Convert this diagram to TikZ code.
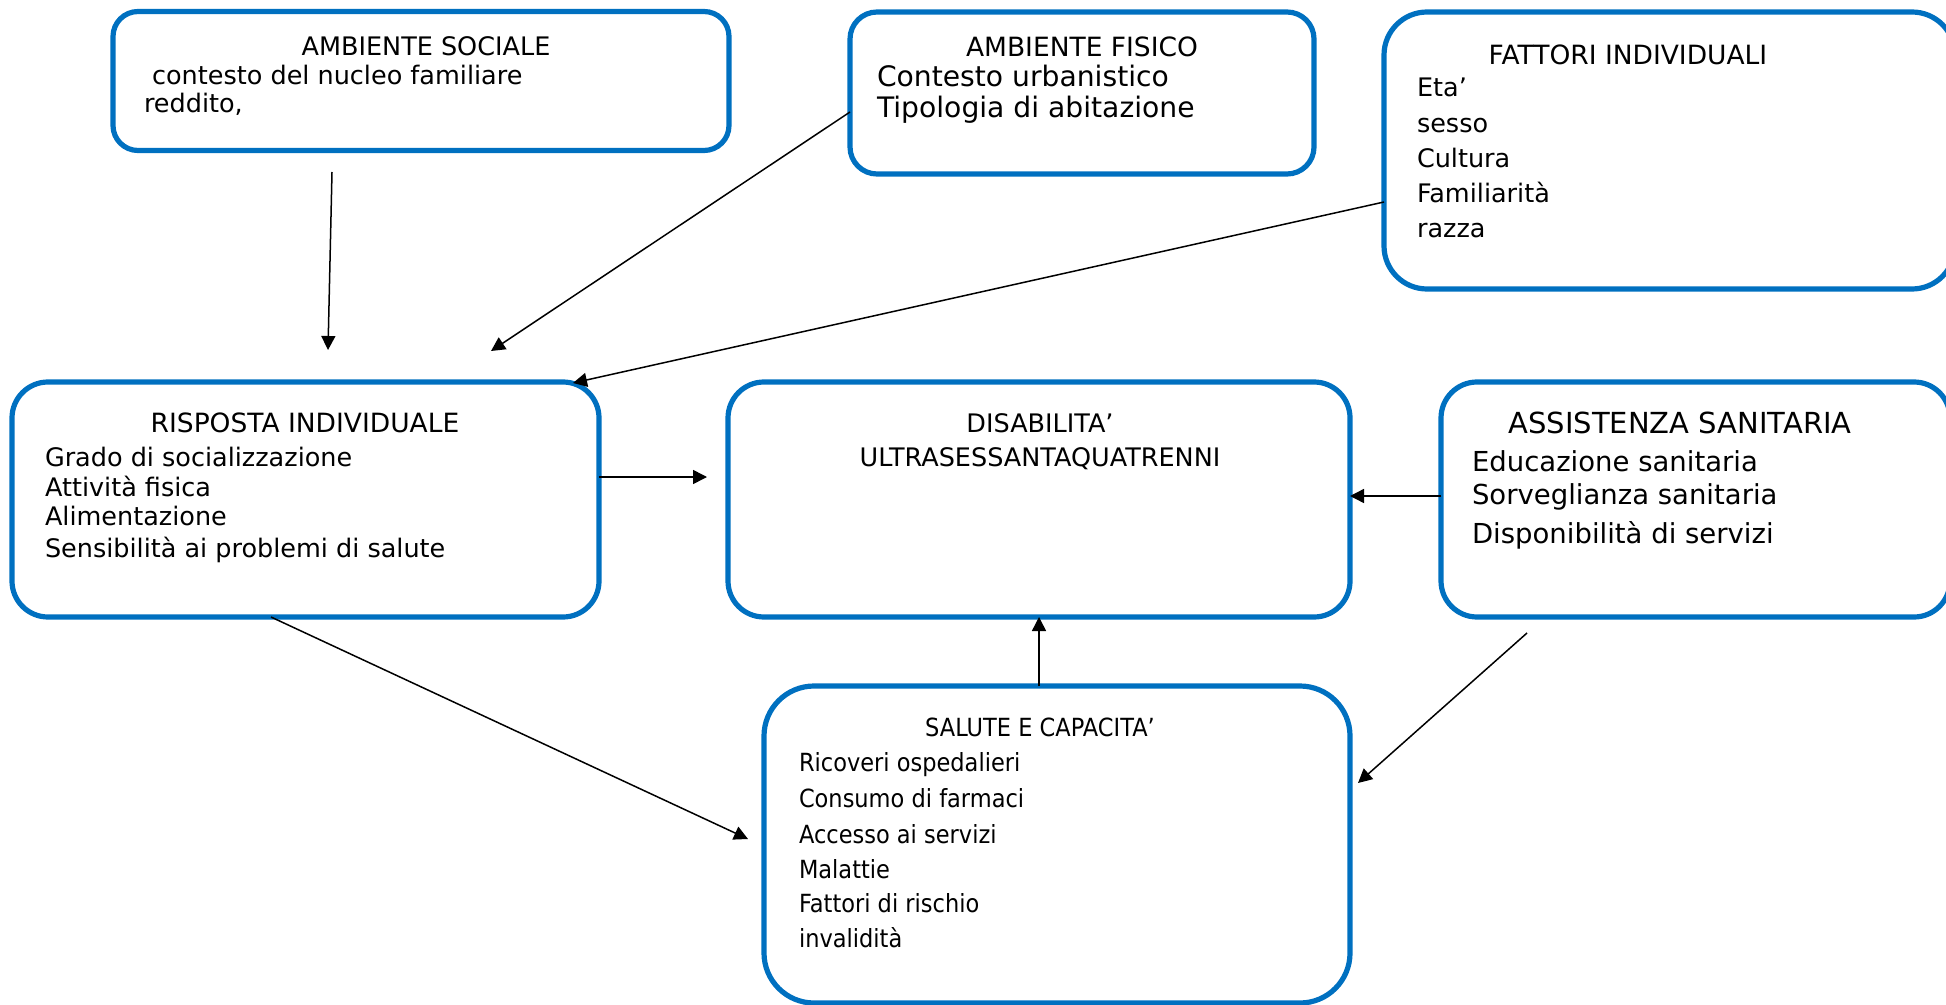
\documentclass[tikz,border=0pt]{standalone}
\usepackage{fontspec}
\setmainfont{DejaVu Sans}
\newfontfamily\narrowsans[FakeStretch=0.9]{DejaVu Sans}
\usetikzlibrary{arrows.meta,calc}
\definecolor{boxblue}{HTML}{0070C0}
\begin{document}
\begin{tikzpicture}[x=0.5pt,y=-0.5pt,
  box/.style={draw=boxblue, line width=2.6pt, rounded corners=#1,
              inner sep=0pt, outer sep=0pt},
  box/.default=18pt,
  txt/.style={inner sep=0pt, outer sep=0pt, anchor=base west,
              font=\fontsize{12.75}{15}\selectfont},
  ttl/.style={txt, anchor=base},
  big/.style={font=\fontsize{13.75}{16}\selectfont},
  bigger/.style={font=\fontsize{14.1}{17}\selectfont},
  bigttl/.style={font=\fontsize{14.5}{17}\selectfont},
  midttl/.style={font=\fontsize{13.25}{16}\selectfont},
  narrow/.style={font=\narrowsans\fontsize{12.5}{15}\selectfont},
  link/.style={line width=0.75pt, -{Triangle[length=7pt,width=7pt]}}
]
\useasboundingbox (0,0) rectangle (1946,1005);
\clip (0,0) rectangle (1946,1005);

% boxes
\node[box=12.5pt, minimum width=308pt,   minimum height=69.5pt]  (as)  at (421,81)      {};
\node[box=13.5pt, minimum width=232pt,   minimum height=81pt]    (af)  at (1082,93)     {};
\node[box=21.5pt, minimum width=285.5pt, minimum height=138.5pt] (fi)  at (1669.5,150.5){};
\node[box,        minimum width=293.5pt, minimum height=117.5pt] (ri)  at (305.5,499.5) {};
\node[box,        minimum width=311pt,   minimum height=117.5pt] (dis) at (1039,499.5)  {};
\node[box,        minimum width=254.5pt, minimum height=117.5pt] (as2) at (1695.5,499.5){};
\node[box=25pt,   minimum width=293pt,   minimum height=158.5pt] (sc)  at (1057,844.5)  {};

% AMBIENTE SOCIALE
\node[ttl] (as-t) at (426,56) {AMBIENTE SOCIALE};
\node[txt] (as-1) at (144,85) {\ contesto del nucleo familiare};
\node[txt] (as-2) at (144,113) {reddito,};

% AMBIENTE FISICO
\node[ttl,midttl] (af-t) at (1082,57) {AMBIENTE FISICO};
\node[txt,bigger] (af-1) at (877,87) {Contesto urbanistico};
\node[txt,bigger] (af-2) at (877,118) {Tipologia di abitazione};

% FATTORI INDIVIDUALI
\node[ttl,midttl] (fi-t) at (1628,65) {FATTORI INDIVIDUALI};
\node[txt] (fi-1) at (1417,97)  {Eta’};
\node[txt] (fi-2) at (1417,133) {sesso};
\node[txt] (fi-3) at (1417,168) {Cultura};
\node[txt] (fi-4) at (1417,203) {Familiarità};
\node[txt] (fi-5) at (1417,238) {razza};

% RISPOSTA INDIVIDUALE
\node[ttl,midttl] (ri-t) at (305,432) {RISPOSTA INDIVIDUALE};
\node[txt] (ri-1) at (45,466) {Grado di socializzazione};
\node[txt] (ri-2) at (45,496) {Attività fisica};
\node[txt] (ri-3) at (45,525) {Alimentazione};
\node[txt] (ri-4) at (45,557) {Sensibilità ai problemi di salute};

% DISABILITA'
\node[ttl] (dis-t1) at (1040,432) {DISABILITA’};
\node[ttl] (dis-t2) at (1040,466) {ULTRASESSANTAQUATRENNI};

% ASSISTENZA SANITARIA
\node[ttl,bigttl] (as2-t) at (1680,433) {ASSISTENZA SANITARIA};
\node[txt,big] (as2-1) at (1472,471) {Educazione sanitaria};
\node[txt,big] (as2-2) at (1472,504) {Sorveglianza sanitaria};
\node[txt,big] (as2-3) at (1472,543) {Disponibilità di servizi};

% SALUTE E CAPACITA'
\node[ttl,narrow] (sc-t) at (1040,736) {SALUTE E CAPACITA’};
\node[txt,narrow] (sc-1) at (799,771) {Ricoveri ospedalieri};
\node[txt,narrow] (sc-2) at (799,807) {Consumo di farmaci};
\node[txt,narrow] (sc-3) at (799,843) {Accesso ai servizi};
\node[txt,narrow] (sc-4) at (799,878) {Malattie};
\node[txt,narrow] (sc-5) at (799,912) {Fattori di rischio};
\node[txt,narrow] (sc-6) at (799,947) {invalidità};

% free ends of the connectors
\coordinate (a1s) at (332,172);
\coordinate (a1e) at (328,350);
\coordinate (a2e) at (491,351);
\coordinate (a3e) at (573,383);
\coordinate (a4e) at (707,477);
\coordinate (a7s) at (271,617);
\coordinate (a7e) at (748,839);
\coordinate (a8s) at (1527,633);
\coordinate (a8e) at (1358,783);

% connectors
\draw[link] (a1s) -- (a1e);
\draw[link] ($(af.west)+(0,19)$) -- (a2e);
\draw[link] ($(fi.west)+(0,51.5)$) -- (a3e);
\draw[link] ($(ri.east)+(0,-22.5)$) -- (a4e);
\draw[link] ($(as2.west)+(0,-3.5)$) -- ($(dis.east)+(0,-3.5)$);
\draw[link] (dis.south |- sc.north) -- (dis.south);
\draw[link] (a7s) -- (a7e);
\draw[link] (a8s) -- (a8e);
\end{tikzpicture}
\end{document}
